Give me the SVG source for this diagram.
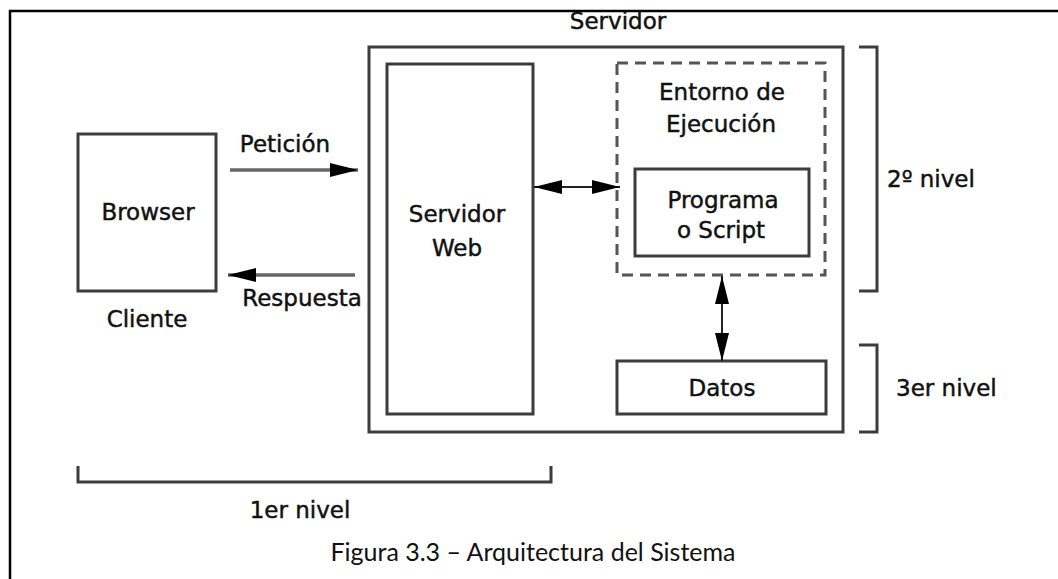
<svg xmlns="http://www.w3.org/2000/svg" width="1058" height="579" viewBox="0 0 1058 579">
  <style>
    .lbl { font-family: "DejaVu Sans", "Liberation Sans", sans-serif; font-size: 23px; fill: #111; stroke: #111; stroke-width: 0.45; }
    .mid { text-anchor: middle; }
    .box { fill: none; stroke: #3c3c3c; stroke-width: 3; }
    .frame { fill: none; stroke: #000; stroke-width: 2.5; }
    .bracket { fill: none; stroke: #3c3c3c; stroke-width: 3; }
    .dashed { fill: none; stroke: #555; stroke-width: 3; stroke-dasharray: 11 7; }
    .wire { stroke: #666; stroke-width: 3.5; fill: none; }
    .link { stroke: #222; stroke-width: 2; fill: none; }
    .caption { font-family: "Lato", "Liberation Sans", sans-serif; font-size: 25px; fill: #111; text-anchor: middle; }
  </style>
  <defs>
    <marker id="head" viewBox="0 0 28 16" refX="28" refY="8" markerWidth="28" markerHeight="16" markerUnits="userSpaceOnUse" orient="auto">
      <path d="M0,1 L28,8 L0,15 Z" fill="#000"/>
    </marker>
    <marker id="headStart" viewBox="0 0 28 16" refX="0" refY="8" markerWidth="28" markerHeight="16" markerUnits="userSpaceOnUse" orient="auto">
      <path d="M28,1 L0,8 L28,15 Z" fill="#000"/>
    </marker>
  </defs>

  <!-- page frame: top and left rules -->
  <path class="frame" d="M10,579 L10,11 L1058,11"/>

  <g id="cliente">
    <rect class="box" x="78" y="134" width="138" height="157"/>
    <text class="lbl mid" x="148" y="220">Browser</text>
    <text class="lbl mid" x="147" y="327">Cliente</text>
  </g>

  <g id="servidor">
    <rect class="box" x="369" y="47" width="474" height="385"/>
    <text class="lbl mid" x="618" y="29">Servidor</text>
  </g>

  <g id="servidor-web">
    <rect class="box" x="387" y="64" width="146" height="350"/>
    <text class="lbl mid" x="457" y="222">Servidor</text>
    <text class="lbl mid" x="457" y="256">Web</text>
  </g>

  <g id="entorno">
    <rect class="dashed" x="617" y="63" width="208" height="212"/>
    <text class="lbl mid" x="722" y="100">Entorno de</text>
    <text class="lbl mid" x="721" y="132">Ejecución</text>
  </g>

  <g id="programa">
    <rect class="box" x="635" y="169" width="174" height="87"/>
    <text class="lbl mid" x="723" y="208">Programa</text>
    <text class="lbl mid" x="721" y="238">o Script</text>
  </g>

  <g id="datos">
    <rect class="box" x="617" y="361" width="209" height="53"/>
    <text class="lbl mid" x="722" y="396">Datos</text>
  </g>

  <g id="niveles">
    <path class="bracket" d="M859,47 L877,47 L877,291 L859,291"/>
    <text class="lbl" x="887" y="187">2º nivel</text>
    <path class="bracket" d="M859,345 L877,345 L877,432 L859,432"/>
    <text class="lbl" x="896" y="396">3er nivel</text>
    <path class="bracket" d="M78,466 L78,482 L551,482 L551,466"/>
    <text class="lbl mid" x="300" y="518">1er nivel</text>
  </g>

  <g id="connectors">
    <line class="wire" x1="230" y1="170" x2="358" y2="170" marker-end="url(#head)"/>
    <text class="lbl mid" x="285" y="152">Petición</text>
    <line class="wire" x1="355" y1="275" x2="228" y2="275" marker-end="url(#head)"/>
    <text class="lbl mid" x="302" y="306">Respuesta</text>
    <line class="link" x1="534" y1="187" x2="620" y2="187" marker-start="url(#headStart)" marker-end="url(#head)"/>
    <line class="link" x1="722" y1="276" x2="722" y2="361" marker-start="url(#headStart)" marker-end="url(#head)"/>
  </g>

  <text class="caption" x="533" y="561">Figura 3.3 – Arquitectura del Sistema</text>
</svg>
